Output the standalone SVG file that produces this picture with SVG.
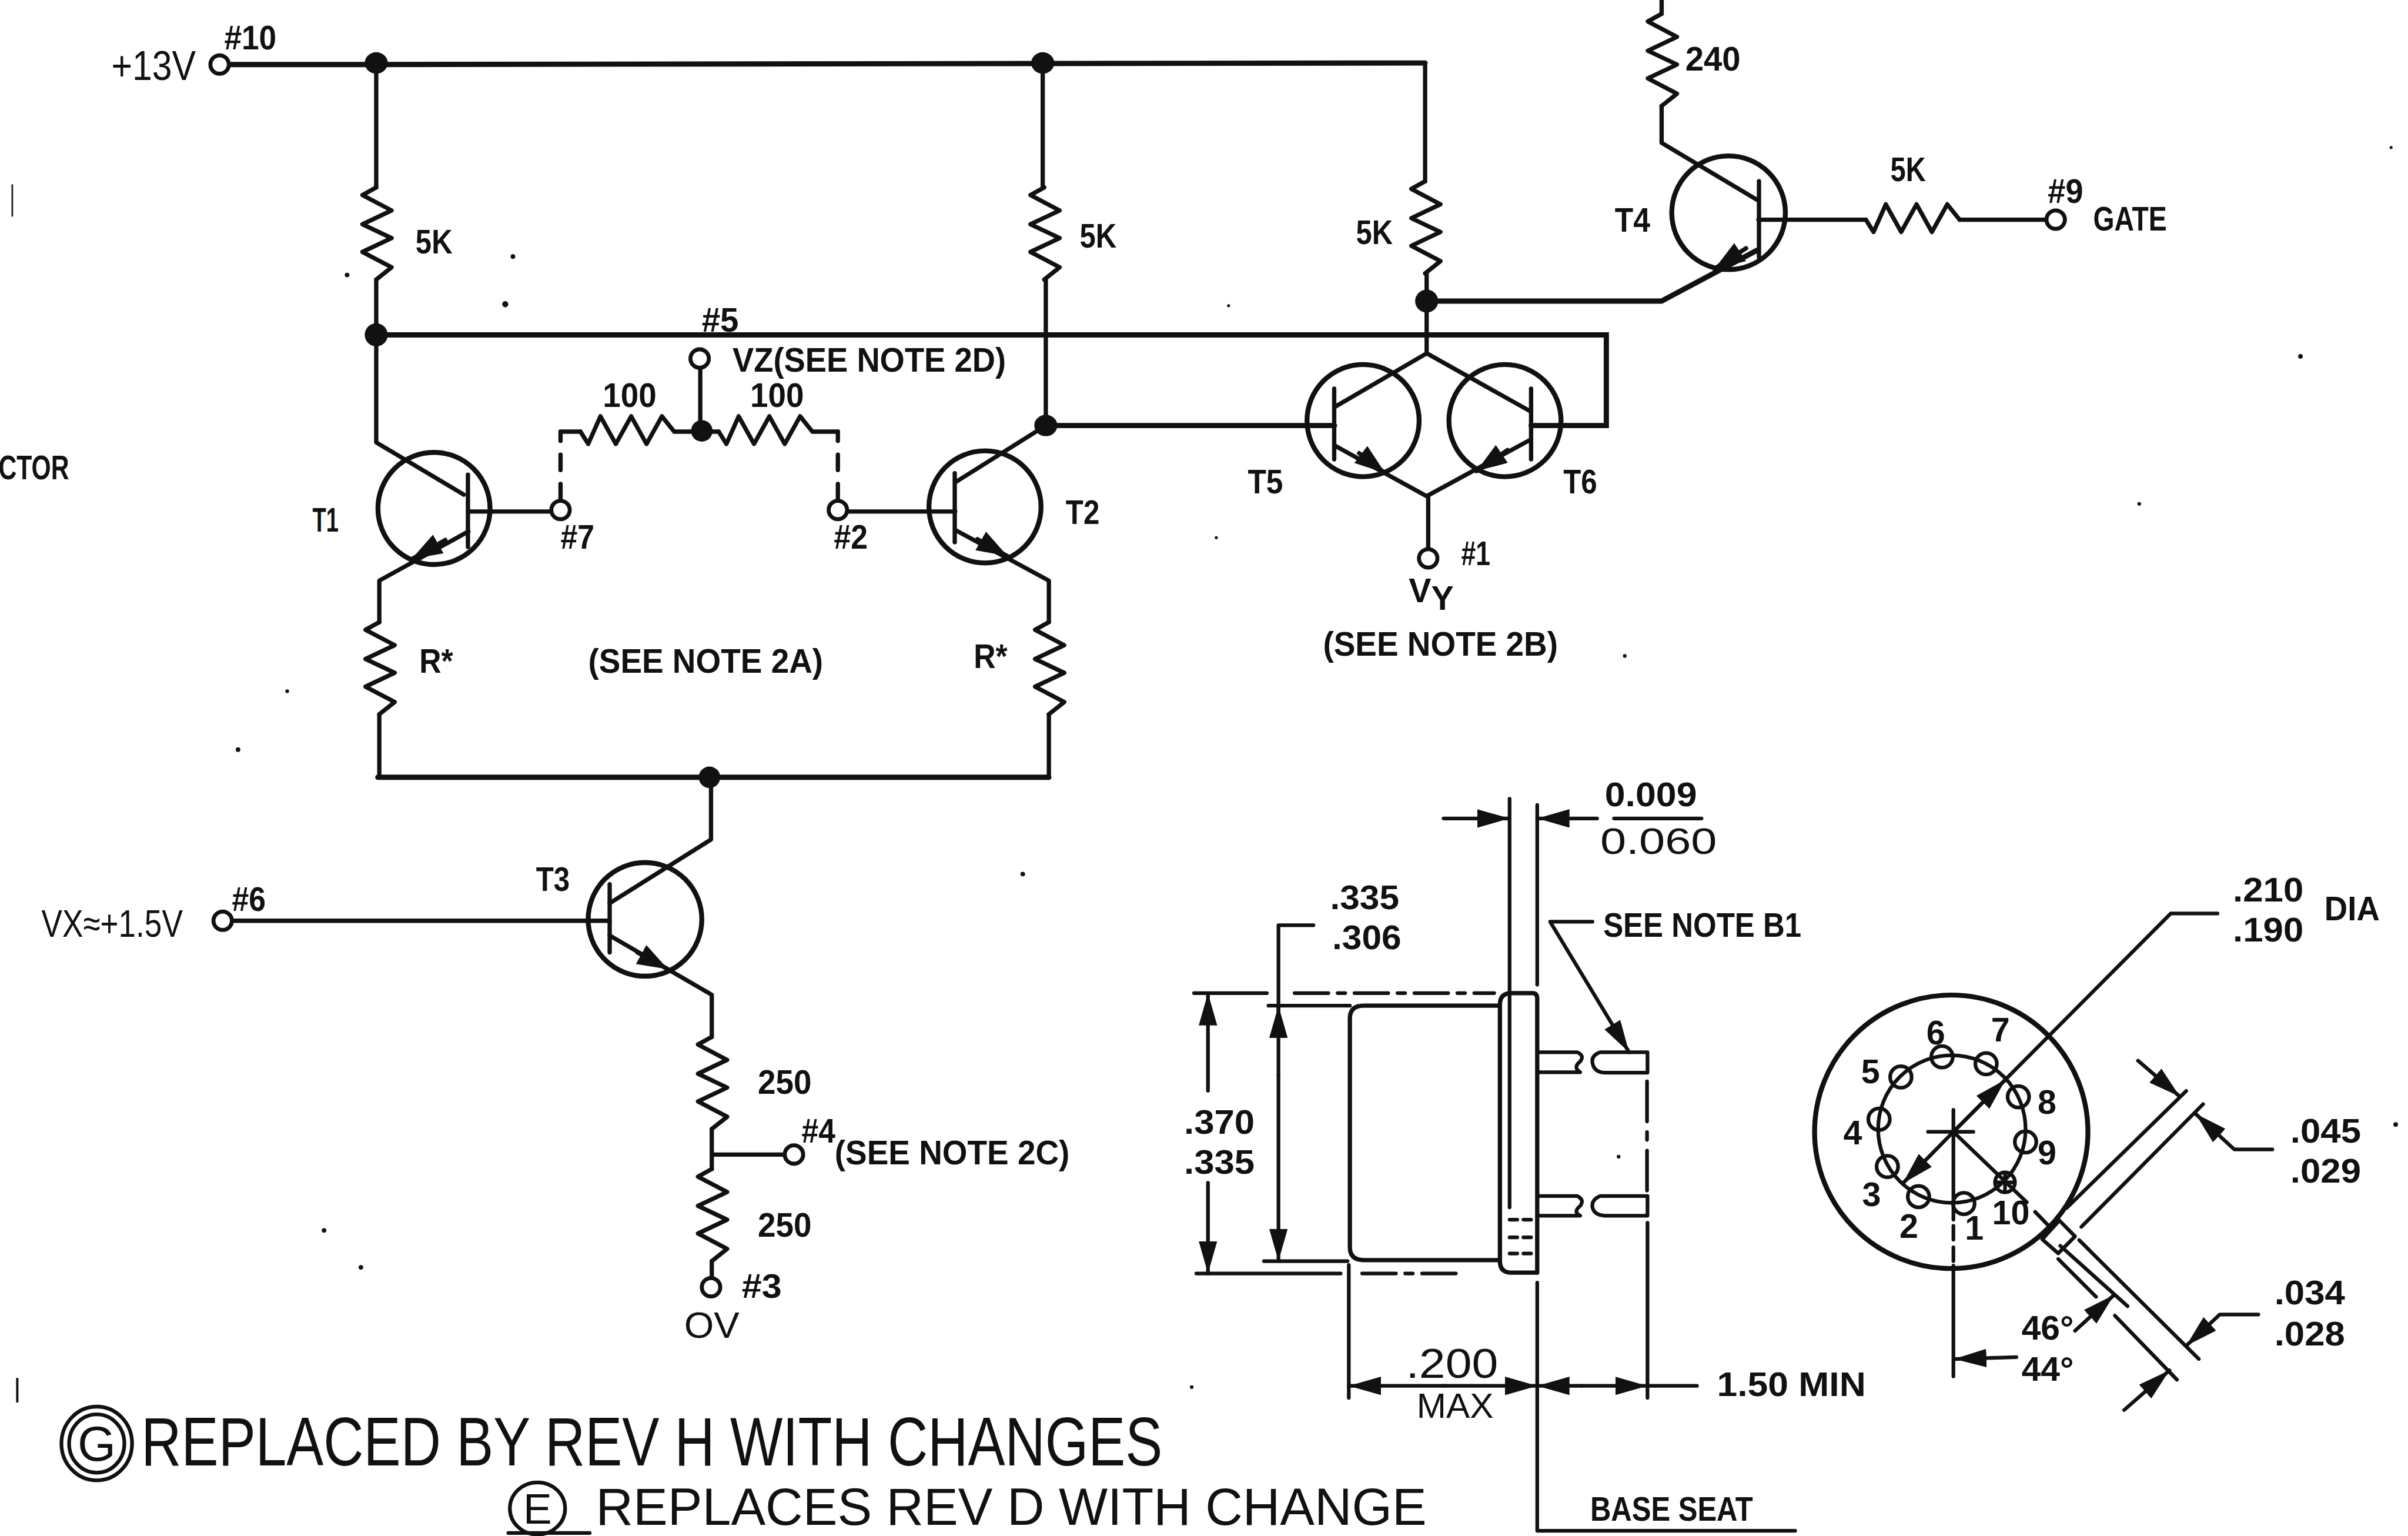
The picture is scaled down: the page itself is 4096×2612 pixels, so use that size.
<svg xmlns="http://www.w3.org/2000/svg" width="4096" height="2612" viewBox="0 0 4096 2612">
<style>
.w{fill:none;stroke:#111;stroke-width:2.8;stroke-linejoin:round;stroke-linecap:round}
.r{fill:none;stroke:#111;stroke-width:3.4;stroke-linecap:round}
.d{fill:none;stroke:#111;stroke-width:2.4;stroke-linejoin:round;stroke-linecap:round}
.t{fill:#fff;stroke:#111;stroke-width:2.6}
.c{fill:none;stroke:#111;stroke-width:3.2}
.n{fill:#111}
.p{fill:none;stroke:#111;stroke-width:2.4}
text{font-family:"Liberation Sans Narrow","Liberation Sans",sans-serif;font-weight:700;font-size:22px;fill:#111;text-anchor:middle}
.l{font-family:"Liberation Sans",sans-serif;font-weight:400}
.big{font-family:"Liberation Sans",sans-serif;font-weight:400;text-anchor:start;font-size:45px}
</style>
<defs>
<marker id="a" markerUnits="userSpaceOnUse" markerWidth="24" markerHeight="14" refX="21" refY="6" orient="auto"><path d="M0,0L21,6L0,12Z" fill="#111"/></marker>
<marker id="e" markerUnits="userSpaceOnUse" markerWidth="22" markerHeight="16" refX="20" refY="7" orient="auto"><path d="M0,0L20,7L0,14Z" fill="#111"/></marker>
<path id="rv" d="M0,0l-9,5 19,10 -19,9 19,9 -19,9 19,10 -10,8" class="w"/>
<path id="rh" d="M0,0l5,8 8,-18 10,18 10,-18 10,18 10,-18 8,10" class="w"/>
</defs>
<rect width="4096" height="2612" fill="#fff"/>
<g transform="scale(2.6122)">
<g id="connectors">
<path class="r" d="M148,42H245L928,41"/>
<path class="w" d="M928,41V118M245,41V122M245,182V288L302,322M679,41V122M681,182V277"/>
<path class="r" d="M245,218H1046V277H997"/>
<path class="r" d="M681,277H869"/>
<path class="w" d="M305,346L247,378V405M247,465V506M305,333H360"/>
<path class="r" d="M246,506H683"/>
<path class="w" d="M683,506V465M683,405V378L622,345M622,314L681,277M622,333H551"/>
<path class="w" d="M365,281H378M545.600,281H530M440,281H468M456,239V280"/>
<path class="w" d="M365,281V326M545.600,281V326" stroke-dasharray="6 9 10 9 12"/>
<path class="w" d="M929,178V230L869,265M929,230L997,268M869,290L929,323L997,286M930,323V358"/>
<path class="r" d="M929,196H1082L1144,163"/>
<path class="w" d="M1082,0V9M1082,69V93L1144,130M1145,143H1215M1276,143H1333"/>
<path class="w" d="M150,599.400H397M463,506V546.500L397,588M397,609L463.500,647.600V675M463.500,735V761M463.500,821V833M463.500,751.600H511"/>
</g>
<g id="T1"><circle class="c" cx="282.600" cy="331" r="36.500"/><path class="w" d="M304.700,309V356"/><path class="w" d="M290,351.500L268,364" marker-end="url(#e)"/><text x="212" y="346" textLength="17" lengthAdjust="spacingAndGlyphs">T1</text></g>
<g id="T2"><circle class="c" cx="641.400" cy="330" r="36.500"/><path class="w" d="M621.700,308V353"/><path class="w" d="M636.500,351L656,362" marker-end="url(#e)"/><text x="705" y="341" textLength="22" lengthAdjust="spacingAndGlyphs">T2</text></g>
<g id="T3"><circle class="c" cx="420" cy="598.500" r="37"/><path class="w" d="M397,575.600V620"/><path class="w" d="M415,620L435,631" marker-end="url(#e)"/><text x="360" y="580" textLength="22" lengthAdjust="spacingAndGlyphs">T3</text></g>
<g id="T4"><circle class="c" cx="1125.600" cy="138.500" r="37"/><path class="w" d="M1145.400,118V167.500"/><path class="w" d="M1137,161.600L1116.400,175" marker-end="url(#e)"/><text x="1063" y="151" textLength="23" lengthAdjust="spacingAndGlyphs">T4</text></g>
<g id="T5"><circle class="c" cx="887.600" cy="273.800" r="36.500"/><path class="w" d="M868.800,253V299"/><path class="w" d="M885,295L902,308" marker-end="url(#e)"/><text x="824" y="321" textLength="23" lengthAdjust="spacingAndGlyphs">T5</text></g>
<g id="T6"><circle class="c" cx="980" cy="273.800" r="36.500"/><path class="w" d="M997,253V299"/><path class="w" d="M981.700,293L961.400,306.700" marker-end="url(#e)"/><text x="1029" y="321" textLength="22" lengthAdjust="spacingAndGlyphs">T6</text></g>
<g id="R1"><use href="#rv" x="245" y="122"/><text x="282.600" y="165" textLength="24" lengthAdjust="spacingAndGlyphs">5K</text></g>
<g id="R2"><use href="#rv" x="680" y="122"/><text x="715" y="161" textLength="24" lengthAdjust="spacingAndGlyphs">5K</text></g>
<g id="R3"><use href="#rv" x="928" y="118"/><text x="895" y="159" textLength="24" lengthAdjust="spacingAndGlyphs">5K</text></g>
<g id="R4"><use href="#rv" x="1082" y="9"/><text x="1115.400" y="46" textLength="36" lengthAdjust="spacingAndGlyphs">240</text></g>
<g id="R5"><use href="#rh" x="1215" y="143"/><text x="1242.500" y="118" textLength="23" lengthAdjust="spacingAndGlyphs">5K</text></g>
<g id="R6"><use href="#rv" x="247" y="405"/><text x="284" y="438" textLength="22" lengthAdjust="spacingAndGlyphs">R*</text></g>
<g id="R7"><use href="#rv" x="683" y="405"/><text x="645" y="435" textLength="22" lengthAdjust="spacingAndGlyphs">R*</text></g>
<g id="R8"><use href="#rh" x="378" y="281"/><text x="410" y="265" textLength="35" lengthAdjust="spacingAndGlyphs">100</text></g>
<g id="R9"><use href="#rh" x="468" y="281"/><text x="506" y="265" textLength="35" lengthAdjust="spacingAndGlyphs">100</text></g>
<g id="R10"><use href="#rv" x="463.500" y="675"/><text x="511" y="712" textLength="35" lengthAdjust="spacingAndGlyphs">250</text></g>
<g id="R11"><use href="#rv" x="463.500" y="761"/><text x="511" y="805" textLength="35" lengthAdjust="spacingAndGlyphs">250</text></g>
<g id="J1"><ellipse class="n" cx="245" cy="41" rx="7.500" ry="7"/><ellipse class="n" cx="679" cy="41" rx="7.500" ry="7"/><ellipse class="n" cx="245" cy="218" rx="7.500" ry="7.500"/><ellipse class="n" cx="681" cy="277" rx="7.500" ry="7"/><ellipse class="n" cx="457" cy="280.500" rx="7" ry="7"/><ellipse class="n" cx="929" cy="196" rx="7.500" ry="7.500"/><ellipse class="n" cx="462" cy="506" rx="7" ry="7"/></g>
<g id="P10"><circle class="t" cx="143" cy="42" r="6"/><text class="l" x="100" y="52" style="font-size:27px" textLength="55" lengthAdjust="spacingAndGlyphs">+13V</text><text x="163" y="32" textLength="34" lengthAdjust="spacingAndGlyphs">#10</text></g>
<g id="P5"><circle class="t" cx="455.600" cy="233.400" r="6"/><text x="469" y="216" textLength="24" lengthAdjust="spacingAndGlyphs">#5</text><text x="566" y="242" textLength="178" lengthAdjust="spacingAndGlyphs">VZ(SEE NOTE 2D)</text></g>
<g id="P7"><circle class="t" cx="365" cy="332" r="6"/><text x="376" y="357" textLength="22" lengthAdjust="spacingAndGlyphs">#7</text></g>
<g id="P2"><circle class="t" cx="545.600" cy="332" r="6"/><text x="554" y="357" textLength="22" lengthAdjust="spacingAndGlyphs">#2</text></g>
<g id="P1"><circle class="t" cx="930" cy="363.500" r="6"/><text x="961" y="368" textLength="19" lengthAdjust="spacingAndGlyphs">#1</text><text x="932" y="392">V<tspan dy="5">Y</tspan></text><text x="938" y="427" textLength="153" lengthAdjust="spacingAndGlyphs">(SEE NOTE 2B)</text></g>
<g id="P9"><circle class="t" cx="1338.600" cy="143" r="6"/><text x="1345" y="132" textLength="23" lengthAdjust="spacingAndGlyphs">#9</text><text x="1387" y="150" textLength="48" lengthAdjust="spacingAndGlyphs">GATE</text></g>
<g id="P6"><circle class="t" cx="145" cy="599.400" r="6"/><text x="162" y="593" textLength="22" lengthAdjust="spacingAndGlyphs">#6</text><text class="l" x="73" y="610" style="font-size:25px" textLength="92" lengthAdjust="spacingAndGlyphs">VX≈+1.5V</text></g>
<g id="P4"><circle class="t" cx="517" cy="751.600" r="6"/><text x="533" y="744" textLength="22" lengthAdjust="spacingAndGlyphs">#4</text><text x="620" y="758" textLength="153" lengthAdjust="spacingAndGlyphs">(SEE NOTE 2C)</text></g>
<g id="P3"><circle class="t" cx="463" cy="838" r="6"/><text x="496" y="845" textLength="26" lengthAdjust="spacingAndGlyphs">#3</text><text class="l" x="463.500" y="871" style="font-size:24px" textLength="36" lengthAdjust="spacingAndGlyphs">OV</text></g>
<text x="459.500" y="438" textLength="153" lengthAdjust="spacingAndGlyphs">(SEE NOTE 2A)</text>
<text x="22" y="312" textLength="46" lengthAdjust="spacingAndGlyphs">CTOR</text>
<g id="notes">
<ellipse class="d" cx="63" cy="939.700" rx="23" ry="24"/><ellipse class="d" cx="63" cy="939.700" rx="18" ry="19"/>
<text class="l" x="63" y="951" style="font-size:32px">G</text>
<text class="big" x="92" y="954" textLength="665" lengthAdjust="spacingAndGlyphs">REPLACED BY REV H WITH CHANGES</text>
<ellipse class="d" cx="350" cy="982" rx="18" ry="17"/>
<text class="l" x="350" y="992" style="font-size:28px">E</text>
<path class="d" d="M331,998H384"/>
<text class="big" x="388" y="992.500" style="font-size:34px" textLength="541" lengthAdjust="spacingAndGlyphs">REPLACES REV D WITH CHANGE</text>
</g>
<g id="package-side">
<path class="d" d="M983,520V786M1001,524V641M1001,835V996.500H1169"/>
<path class="w" d="M879,663Q879,654.700 888,654.700H976.700M879,663V812Q879,820.300 888,820.300H976.700"/>
<path class="w" d="M976.700,654Q976.700,646.500 984,646.500H998Q1001,646.500 1001,650V828.500H984Q976.700,828.500 976.700,821Z"/>
<path class="d" d="M1001,685H1027Q1032,687 1029,691Q1024,695 1029,698H1001M1072.800,685H1042Q1036,687 1037,692Q1038,698 1045,698.300H1072.800Z"/>
<path class="d" d="M1001,778.600H1027Q1032,781 1029,785Q1024,789 1029,791.400H1001M1072.800,778.600H1042Q1036,781 1037,786Q1038,791 1045,791.400H1072.800Z"/>
<path class="d" d="M1072.500,704V776" stroke-dasharray="26 7 5 7"/><path class="d" d="M1072.800,796V910M878.300,823.500V910"/>
<path class="d" d="M983,794H999M983,805.500H999M983,816H999" stroke-dasharray="5 4"/>
<path class="d" d="M777.500,646.500H825M826,654.700H879M779,829H873M823,821H877.500"/>
<path class="d" d="M843,646.500H973M887,829H948" stroke-dasharray="22 6 5 6"/>
<path class="d" d="M940,532.800H983" marker-end="url(#a)"/><path class="d" d="M1040,532.800H1001" marker-end="url(#a)"/><path class="d" d="M1051,532.800H1108"/>
<path class="d" d="M786.600,710V646.500" marker-end="url(#a)"/><path class="d" d="M786.600,770V829" marker-end="url(#a)"/>
<path class="d" d="M855.300,602.300H832.500V660"/><path class="d" d="M832.500,700V654.700" marker-end="url(#a)"/><path class="d" d="M832.500,700V821" marker-end="url(#a)"/>
<path class="d" d="M1037,600H1009.400L1060.800,685" marker-end="url(#a)"/>
<path class="d" d="M940,902.200H878.300" marker-end="url(#a)"/><path class="d" d="M940,902.200H1001" marker-end="url(#a)"/><path class="d" d="M1030,902.200H1001" marker-end="url(#a)"/><path class="d" d="M1030,902.200H1072.800" marker-end="url(#a)"/><path class="d" d="M1072.800,902.200H1105"/>
<text x="1075" y="525" textLength="60" lengthAdjust="spacingAndGlyphs">0.009</text>
<text class="l" x="1080" y="556" style="font-size:24px" textLength="76" lengthAdjust="spacingAndGlyphs">0.060</text>
<text x="888.600" y="592" textLength="45" lengthAdjust="spacingAndGlyphs">.335</text><text x="890" y="618" textLength="45" lengthAdjust="spacingAndGlyphs">.306</text>
<text x="794" y="738" textLength="46" lengthAdjust="spacingAndGlyphs">.370</text><text x="794" y="764" textLength="46" lengthAdjust="spacingAndGlyphs">.335</text>
<text x="1108.500" y="610" textLength="129" lengthAdjust="spacingAndGlyphs">SEE NOTE B1</text>
<text class="l" x="945.500" y="897" style="font-size:27px" textLength="60" lengthAdjust="spacingAndGlyphs">.200</text>
<text class="l" x="947.500" y="923" style="font-size:23px" textLength="50" lengthAdjust="spacingAndGlyphs">MAX</text>
<text x="1166.500" y="909" textLength="97" lengthAdjust="spacingAndGlyphs">1.50 MIN</text>
<text x="1088.500" y="990" textLength="106" lengthAdjust="spacingAndGlyphs">BASE SEAT</text>
</g>
<g id="package-base">
<circle class="c" cx="1270.600" cy="736.800" r="89"/>
<circle class="d" cx="1271" cy="735" r="48"/>
<g class="p"><circle cx="1264.600" cy="688" r="7"/><circle cx="1293.300" cy="692.500" r="7"/><circle cx="1314.300" cy="714" r="7"/><circle cx="1319" cy="743.400" r="7"/><circle cx="1305.600" cy="769.700" r="6.500"/><circle cx="1278.800" cy="783.500" r="7"/><circle cx="1249.300" cy="779" r="7"/><circle cx="1229" cy="759.400" r="7"/><circle cx="1223.600" cy="728.600" r="7"/><circle cx="1237.800" cy="701.100" r="7"/></g>
<path class="d" d="M1255.500,736.800H1285M1272,722.500V794M1272,824V896M1272,736.800L1319.800,782.700M1300,769.700H1311M1305.600,764V775"/>
<path class="d" d="M1272,798V822" stroke-dasharray="9 5"/>
<path class="d" d="M1272,736.800L1239,770.400" marker-end="url(#a)"/><path class="d" d="M1444,594.700H1413.500L1272,736.800"/><path class="d" d="M1272,736.800L1306,702.800" marker-end="url(#a)"/>
<path class="d" d="M1345.700,786.400L1423.600,710.200M1355.300,798.700L1434.600,718.800M1329.900,806.800L1341,794.500L1351.200,804.900L1340.300,815.900ZM1325.200,788.900L1335,799M1340.300,819.600L1364.900,844.200M1341.600,811L1385.400,850.300M1353.900,807.300L1431.800,884.700M1377.200,856.500L1417.600,898.200"/>
<path class="d" d="M1392.200,690.500L1419.500,713.900" marker-end="url(#a)"/><path class="d" d="M1479.700,748.300H1455L1429.600,725" marker-end="url(#a)"/>
<path class="d" d="M1470.600,855.700H1445.500L1423.600,876.100" marker-end="url(#a)"/><path class="d" d="M1383.200,917.900L1412.700,892.100" marker-end="url(#a)"/>
<path class="d" d="M1351.200,866.300L1376.600,843" marker-end="url(#a)"/><path class="d" d="M1313,883.500L1272.500,884.700" marker-end="url(#a)"/>
<text x="1477" y="587" textLength="46" lengthAdjust="spacingAndGlyphs">.210</text><text x="1477" y="613" textLength="46" lengthAdjust="spacingAndGlyphs">.190</text>
<text x="1531.600" y="599" textLength="36" lengthAdjust="spacingAndGlyphs">DIA</text>
<text x="1514.400" y="744" textLength="46" lengthAdjust="spacingAndGlyphs">.045</text><text x="1514.400" y="770" textLength="46" lengthAdjust="spacingAndGlyphs">.029</text>
<text x="1504" y="849" textLength="46" lengthAdjust="spacingAndGlyphs">.034</text><text x="1504" y="876" textLength="46" lengthAdjust="spacingAndGlyphs">.028</text>
<text x="1333.400" y="872" textLength="34" lengthAdjust="spacingAndGlyphs">46°</text><text x="1333.400" y="899" textLength="34" lengthAdjust="spacingAndGlyphs">44°</text>
<text x="1260.500" y="680">6</text><text x="1302.600" y="678">7</text><text x="1333" y="725">8</text><text x="1333" y="758">9</text><text x="1309.400" y="797">10</text><text x="1285.600" y="807">1</text><text x="1243" y="806">2</text><text x="1218.700" y="785">3</text><text x="1206.400" y="745">4</text><text x="1218" y="705">5</text>
</g>
<g id="specks" class="n"><circle cx="226" cy="179" r="1.500"/><circle cx="334" cy="167" r="1.500"/><circle cx="329" cy="198" r="2"/><circle cx="187" cy="450" r="1.200"/><circle cx="155" cy="488" r="1.500"/><circle cx="211" cy="801" r="1.500"/><circle cx="235" cy="825" r="1.500"/><circle cx="666" cy="569" r="1.500"/><circle cx="1498" cy="232" r="1.500"/><circle cx="1393" cy="328" r="1.200"/><circle cx="1058" cy="427" r="1.200"/><circle cx="1557" cy="96" r="1"/><circle cx="800" cy="199" r="1"/><circle cx="792" cy="350" r="1"/><circle cx="1560" cy="732" r="1.500"/><circle cx="1054" cy="753" r="1.200"/><circle cx="776" cy="903" r="1.200"/><rect x="10.500" y="897" width="1.500" height="16"/><rect x="7.500" y="120" width="1" height="21"/></g>
</g>
</svg>
